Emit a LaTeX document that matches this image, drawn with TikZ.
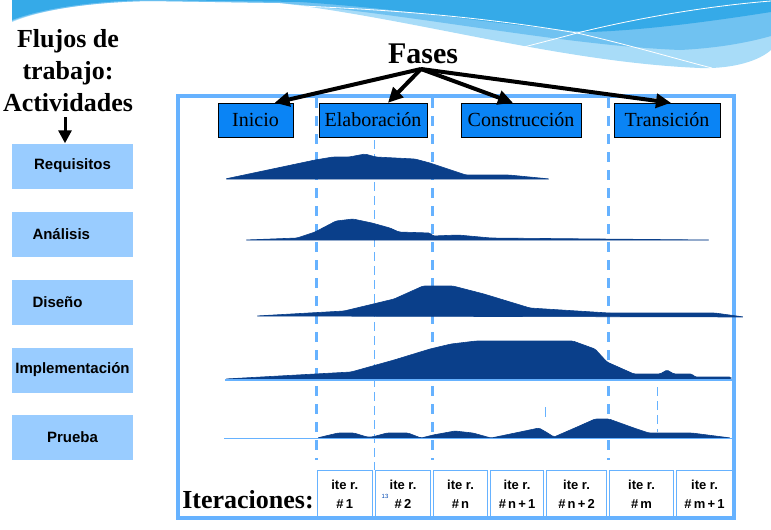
\documentclass[tikz,border=0pt]{standalone}
\usepackage{fontspec}
\setmainfont{Liberation Serif}
\setsansfont{Liberation Sans}
\usetikzlibrary{arrows.meta, positioning}

\begin{document}
\begin{tikzpicture}[x=1pt, y=-1pt,
  phasebox/.style={draw=black, fill=phaseblue, minimum height=34pt, inner sep=0pt, font=\fontsize{20}{22}\selectfont},
  actbox/.style={fill=actblue, minimum width=121pt, minimum height=45pt, inner sep=0pt, font=\sffamily\bfseries\fontsize{15}{17}\selectfont},
  itercell/.style={draw=frameblue, line width=0.8pt, minimum height=47pt, inner sep=0pt, align=center, font=\sffamily\bfseries\fontsize{13}{19}\selectfont},
  phasedash/.style={frameblue, line width=3pt, dash pattern=on 10pt off 8pt},
  iterdash/.style={frameblue, line width=1pt, dash pattern=on 9pt off 5pt},
  effort/.style={fill=navy, draw=navy, line width=0.6pt, line join=round, rounded corners=1.5pt},
  fasearrow/.style={-{Triangle[length=15pt,width=14pt]}, line width=4pt},
  downarrow/.style={-{Triangle[length=13pt,width=13pt]}, line width=3pt},
  title/.style={font=\bfseries\fontsize{26}{32}\selectfont, inner sep=0pt}]
  \definecolor{frameblue}{HTML}{66B2FF}
  \definecolor{phaseblue}{HTML}{0A84F5}
  \definecolor{actblue}{HTML}{99CCFF}
  \definecolor{navy}{HTML}{0A3F8A}
  \definecolor{swooshdark}{HTML}{35AAE8}
  \definecolor{swooshmid}{HTML}{70C2F1}
  \definecolor{swooshlight}{HTML}{A8DCF8}

  \useasboundingbox (0,0) rectangle (771,530);

  % Background swoosh
  \fill[swooshlight] (12,0) -- (12,22) .. controls (40,10) and (90,2) .. (150,1) -- (280,3) .. controls (420,20) and (560,62) .. (700,68) .. controls (735,69) and (760,60) .. (771,50) -- (771,0) -- cycle;
  \fill[swooshmid] (12,0) -- (12,21) .. controls (40,10) and (90,2) .. (150,1) -- (280,3) .. controls (420,15) and (560,45) .. (680,50) .. controls (720,48) and (750,42) .. (771,36) -- (771,0) -- cycle;
  \fill[swooshdark] (12,0) -- (12,20) .. controls (40,9) and (90,1) .. (150,0) -- (300,2) .. controls (420,10) and (520,28) .. (590,32) .. controls (650,30) and (720,20) .. (771,12) -- (771,0) -- cycle;
  \draw[white, line width=0.8pt] (240,4) .. controls (400,8) and (500,20) .. (577,33) .. controls (630,45) and (680,60) .. (712,68);
  \draw[white, line width=0.8pt] (487,57) .. controls (530,45) and (560,38) .. (577,33) .. controls (650,15) and (720,5) .. (771,1);

  % Frame and phase limits
  \draw[frameblue, line width=3.5pt] (178,96) rectangle (734,518);
  \foreach \x in {316, 432, 608}
    \draw[phasedash] (\x,98) -- (\x,460);
  \draw[iterdash] (374,140) -- (374,470);
  \draw[iterdash] (657,387) -- (657,432);
  \draw[frameblue, line width=0.8pt] (545,407) -- (545,417);

  % Effort curves
  \fill[effort] (225,179) -- (315,160) -- (333,157) -- (349,157) -- (365,154) -- (376,157) -- (415,159) -- (430,163) -- (448,169) -- (466,175) -- (509,175) -- (550,179) -- cycle;
  \fill[effort] (245,240) -- (297,238) -- (315,232) -- (336,221) -- (353,219) -- (372,223) -- (390,228) -- (399,232) -- (430,233) -- (433,236) -- (458,235) -- (491,238) -- (710,240) -- cycle;
  \fill[effort] (256,316) -- (344,311) -- (394,299) -- (423,286) -- (453,286) -- (484,294) -- (530,308) -- (609,313) -- (715,313) -- (744,317) -- cycle;
  \fill[effort] (225,379) -- (351,372) -- (394,360) -- (430,349) -- (451,344) -- (476,341) -- (573,341) -- (595,349) -- (607,362) -- (616,366) -- (634,374) -- (660,374) -- (667,370) -- (674,374) -- (692,374) -- (695,377) -- (731,377) -- (731,379) -- cycle;
  \fill[effort] (317,438) -- (338,433) -- (354,433) -- (367,437) -- (372,437) -- (387,433) -- (408,433) -- (421,438) -- (433,435) -- (455,431) -- (473,433) -- (491,438) -- (539,428) -- (546,432) -- (554,437) -- (577,427) -- (595,419) -- (609,419) -- (634,428) -- (649,433) -- (692,433) -- (731,438) -- cycle;
  \draw[frameblue, line width=1.5pt] (225,380) -- (733,380);
  \draw[frameblue, line width=1.5pt] (224,438.5) -- (733,438.5);

  % Phases
  \node (fases) [anchor=base, font=\bfseries\fontsize{30}{34}\selectfont] at (423,63) {Fases};
  \coordinate (hub) at (421,69);
  \node (ini) [phasebox, minimum width=75pt] at (255.5,120) {Inicio};
  \node (ela) [phasebox, minimum width=108pt] at (373,120) {Elaboración};
  \node (con) [phasebox, minimum width=120pt] at (521,120) {Construcción};
  \node (tra) [phasebox, minimum width=106pt] at (667,120) {Transición};

  % Activities
  \node (flujos) [title, align=center, anchor=north] at (68,29) {Flujos de\\trabajo:\\Actividades};
  \node (req) [actbox] at (72.5,166) {Requisitos};
  \node (ana) [actbox] at (72.5,234) {\makebox[80pt][l]{Análisis}};
  \node (dis) [actbox] at (72.5,302) {\makebox[80pt][l]{Diseño}};
  \node (imp) [actbox] at (72.5,370) {Implementación};
  \node (pru) [actbox] at (72.5,437) {Prueba};
  \coordinate (actarrow) at (65,117);

  % Iterations
  \node (iter) [title, anchor=base] at (248,508) {Iteraciones:};
  \foreach \c/\w/\t [count=\i] in {344.75/58.5/1, 403/58/2, 460.5/57/n, 517/56/n\,+\,1, 576.5/63/n\,+\,2, 641.5/67/m, 704.5/59/m\,+\,1}
    \node (it\i) [itercell, minimum width=\w pt - 3pt] at (\c,494) {ite r.\\\#\,\t};
  \node (slidenum) [font=\sffamily\fontsize{6}{7}\selectfont, text=blue!60!cyan!70!black, inner sep=0pt] at (385,496) {13};

  % Arrows
  \draw[fasearrow] (hub) -- (ini.42);
  \draw[fasearrow] (hub) -- (ela.49);
  \draw[fasearrow] (hub) -- (con.115);
  \draw[fasearrow] (hub) -- (tra.77);
  \draw[downarrow] (actarrow) -- (actarrow |- req.north);
\end{tikzpicture}
\end{document}
